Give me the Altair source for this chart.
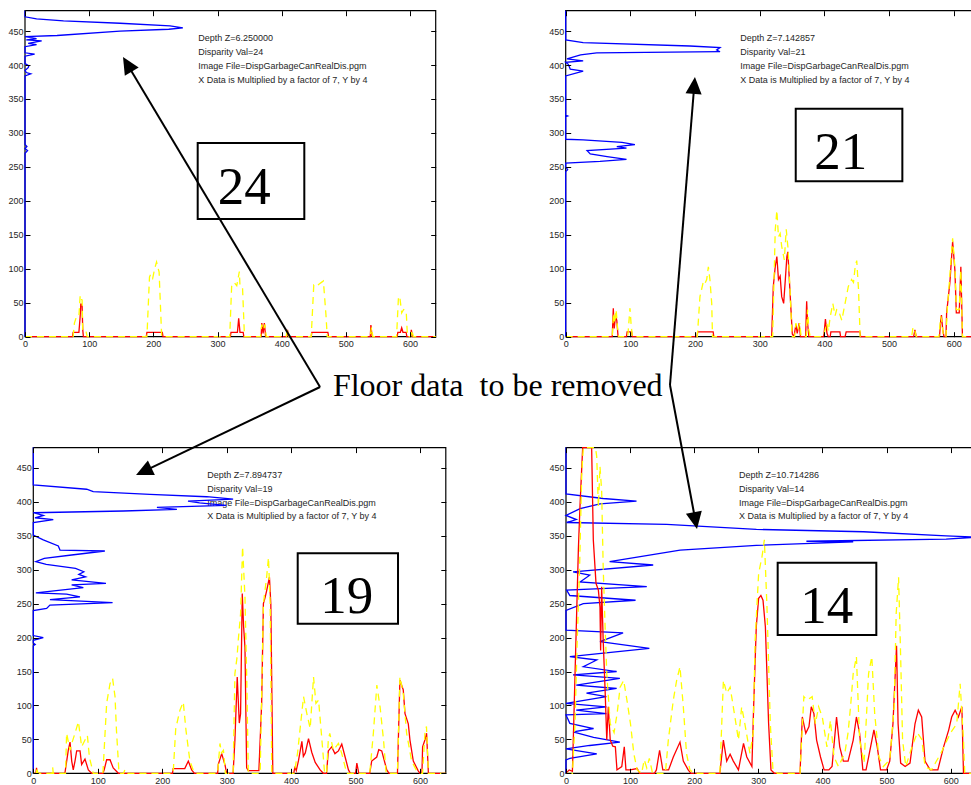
import math
import altair as alt
import pandas as pd

W, H = 971, 785

# ---------------- data ----------------
X_TICKS = [0, 100, 200, 300, 400, 500, 600]
Y_TICKS = [0, 50, 100, 150, 200, 250, 300, 350, 400, 450]

# Panel 1 (disparity 24)
P1_BLUE_Y = [0, 270, 274, 277, 280, 283, 384, 387, 389, 392, 396, 399, 402, 413, 416, 418, 427, 430, 432, 435.5, 437,
             439, 441.8, 443.5, 450, 452.7, 454.6, 457.6, 461.5, 465, 468, 471, 480]
P1_BLUE_X = [0, 0, 4, 0, 3, 0, 0, 9, 2, 0, 5, 6, 0, 0, 15, 0, 0, 18, 5, 26, 2,
             18, 0, 50, 148, 224, 246, 226, 148, 60, 18, 0, 0]
P1_RED_X = [0, 74, 75, 84, 86, 87, 89, 90, 91, 189, 190, 214, 215, 320, 321, 331, 333, 335, 340, 341, 368, 369, 371,
            373, 375, 408, 409, 411, 446, 447, 472, 473, 538, 539, 541, 580, 581, 585, 587, 589, 594, 595, 601, 602,
            604, 640]
P1_RED_Y = [0, 0, 6.5, 6.5, 30, 49, 45, 10, 0, 0, 6.5, 6.5, 0, 0, 6.5, 6.5, 27, 6.5, 6.5, 0, 0, 20, 5,
            20, 0, 0, 10, 0, 0, 6.5, 6.5, 0, 0, 17, 0, 0, 6.5, 6.5, 13, 6.5, 6.5, 0, 0, 10,
            0, 0]
P1_YEL_X = [0, 75, 77, 80, 84, 86, 88, 89, 90, 95, 97, 190, 194, 196, 199, 202, 205, 209, 213, 319, 322, 326, 330,
            334, 335, 339, 342, 367, 369, 372, 374, 376, 407, 409, 411, 446, 450, 454, 459, 462, 465, 469, 471, 538,
            540, 542, 579, 582, 584, 587, 590, 594, 596, 601, 603, 605, 640]
P1_YEL_Y = [0, 0, 20, 29, 30, 61, 55, 54, 8, 8, 0, 0, 88, 92, 86, 100, 110, 95, 0, 0, 74, 80, 75,
            96, 75, 72, 0, 0, 18, 10, 18, 0, 0, 12, 0, 0, 76, 74, 78, 80, 82, 32, 0, 0,
            14, 0, 0, 59, 59, 35, 40, 38, 0, 0, 10, 0, 0]

# Panel 2 (disparity 21)
P2_BLUE_Y = [0, 243, 246, 250, 255.6, 258, 261, 265, 269, 274, 277.6, 280, 282.7, 286, 289.7, 290.7, 324, 325, 326,
             384, 391, 394, 401, 404, 406, 409, 415, 418, 419.6, 422.2, 425.6, 428, 433, 437, 480]
P2_BLUE_X = [0, 0, 3, 0, 0, 53, 94, 64, 38, 33, 94, 79, 107, 87, 27, 0, 0, 3, 0,
             0, 27, 7, 4, 0, 27, 2, 23, 48, 238.6, 233.5, 238.6, 192, 27, 0, 0]
P2_RED_X = [0, 72, 73.6, 75, 77, 79, 81, 94, 95, 102, 103, 203, 204, 228, 229, 318.5, 321, 324, 326.5, 329, 331.6,
            334, 337, 339.6, 342, 343.5, 345, 347.8, 350.4, 353, 356, 358, 361, 363, 371, 372.6, 374, 376, 399,
            401.6, 404, 406, 409, 410, 424, 425, 432, 433.7, 455, 456, 538, 540, 542, 578, 580, 581, 583, 585, 588,
            589, 594, 598.3, 601.8, 604, 608.5, 611, 613.5, 640]
P2_RED_Y = [0, 0, 42, 12, 30, 24, 0, 0, 7, 7, 0, 0, 7, 7, 0, 0, 74, 103, 118, 84, 89,
            59, 49, 84, 118, 125, 98, 49, 4, 0, 18, 5, 20, 0, 0, 52, 20, 0, 0,
            26, 5, 0, 0, 7, 7, 0, 0, 7, 7, 0, 0, 10, 0, 0, 25, 32, 10, 0, 0,
            35, 79, 140, 98, 35, 35, 103, 0, 0]
P2_YEL_X = [0, 72, 74, 76, 78, 80, 82, 96, 98, 99.4, 101, 103, 203.5, 207.6, 212.8, 215, 218, 220.6, 223, 225.8, 227,
            320, 324, 326.5, 329, 331.6, 334, 338, 341, 344, 347.8, 350, 354, 356, 359, 362, 364, 372, 374, 376,
            378, 398.5, 403.7, 406, 409, 413, 416.6, 419, 421.7, 426.9, 432, 437, 442, 445, 447.6, 450, 452.8,
            455.3, 535, 537, 540, 542, 577, 580, 582, 584, 588, 590, 594, 598.3, 602, 604, 608.5, 611, 613.5, 640]
P2_YEL_Y = [0, 0, 35, 20, 40, 15, 0, 0, 25, 42, 20, 0, 0, 59, 81, 78, 84, 103, 84, 49, 0,
            0, 157, 186, 147, 152, 133, 113, 158, 128, 49, 0, 0, 20, 10, 20, 0, 0, 40, 10,
            0, 0, 20, 8, 29, 49, 31, 40, 39, 24, 49, 74, 84, 80, 103, 112, 69,
            0, 0, 14, 8, 0, 0, 30, 20, 0, 0, 40, 90, 145, 100, 40, 40, 98, 0, 0]

# Panel 3 (disparity 19)
P3_BLUE_Y = [0, 188, 190, 192, 196, 200, 203, 239.7, 243, 248, 251.6, 256, 260, 264, 266, 273.6, 277.6, 280, 285,
             289.6, 293, 297, 302, 308, 312, 316.8, 321.7, 327.6, 329, 335, 344, 351, 369.6, 374, 376.6, 380, 384,
             386.6, 389, 392, 395, 398.6, 401, 404, 407.6, 411, 415, 418.6, 425, 480]
P3_BLUE_X = [0, 0, 3, 0, 0, 15.5, 0, 0, 20.7, 25.8, 123, 25.8, 72.4, 51.7, 4, 77.6, 59.5, 112.7, 59.5,
             81, 70.6, 78.4, 65.5, 20, 4, 17, 59.5, 111, 41.4, 38.8, 15.5, 0, 0, 31, 2.6, 15.5, 0,
             139.7, 222.8, 191.8, 299, 258, 240, 310, 269, 181, 93, 82.8, 0, 0]
P3_RED_X = [0, 4, 5, 6, 49, 54.3, 57, 59.6, 62, 64.7, 67.3, 72.5, 75, 80.2, 85.4, 90.6, 108, 110, 113.8, 119, 124,
            132, 216, 217, 235, 240.5, 245.7, 250, 286, 287, 292.3, 297.5, 300, 310, 312.8, 316.4, 319.6, 321.6,
            324.2, 326.3, 328.4, 331, 333.6, 350, 354.3, 357, 359.6, 362, 366.4, 368.5, 371.6, 404, 406, 408,
            411.5, 416.7, 419, 422, 427, 432, 437.4, 445, 450, 455, 457.7, 462.9, 468, 473.4, 478.6, 483.8, 489,
            492, 500, 502, 505, 522, 525, 532.9, 536, 540.6, 548.4, 552, 565, 568.8, 574, 576.7, 581.8, 584.4,
            589.6, 597, 600, 603, 604, 607.6, 610.2, 613, 640]
P3_RED_Y = [0, 0, 8, 0, 0, 34, 46, 18, 5, 18, 33, 33, 13, 21, 5, 0, 0, 5, 20, 20, 8,
            0, 0, 7, 7, 18, 5, 0, 0, 13, 29, 12, 0, 0, 49, 142, 74, 88,
            265, 216, 186, 8, 4, 4, 103, 250, 259, 269, 289, 250, 0, 0, 10, 4,
            19, 47, 25, 30, 51, 31, 16, 5, 0, 0, 33, 39, 29, 33, 43, 24, 5,
            0, 0, 15, 0, 0, 18, 24, 35, 33, 5, 0, 0, 137, 123, 88, 73, 49,
            18, 4, 0, 0, 39, 49, 59, 0, 0]
P3_YEL_X = [0, 5, 5.6, 7, 29, 30, 31, 50, 51.7, 57, 60, 64.7, 70, 75, 80.2, 83.9, 87, 93, 108, 113.8, 119, 123,
            126.8, 129, 133, 140, 142, 144, 217, 221, 227.5, 232.7, 236.8, 243, 248, 252, 286, 289.6, 292, 295,
            298, 310, 312.8, 316, 318, 321.6, 324.7, 328.4, 331, 333.6, 352, 354.3, 357, 362, 364.9, 367.5, 370,
            405, 410, 414, 419.3, 424.4, 429.6, 434.8, 438.5, 442.6, 447.8, 452, 455, 457.7, 460, 465.5, 473.4,
            478.6, 486.3, 522, 527.6, 533, 538, 543.4, 547.5, 565, 568.8, 574, 579.2, 587, 594.7, 600, 604, 607.6,
            610, 613, 640]
P3_YEL_Y = [0, 0, 9, 0, 0, 9, 0, 0, 59, 34, 45, 59, 76, 39, 49, 56, 24, 0, 0, 103, 132, 140,
            113, 64, 0, 0, 5, 0, 0, 66, 93, 105, 64, 18, 5, 0, 0, 44, 30, 34,
            0, 0, 147, 170, 196, 235, 334, 260, 147, 0, 0, 113, 250, 289, 318, 250, 0,
            0, 30, 66, 113, 88, 66, 142, 103, 108, 49, 0, 0, 49, 59, 34, 44,
            29, 0, 0, 59, 130, 98, 49, 0, 0, 142, 118, 59, 18, 4, 0, 0, 59,
            69, 0, 0]

# Panel 4 (disparity 14)
P4_BLUE_Y = [0, 19.6, 22, 28.5, 36, 41, 46, 53, 61, 66, 73.6, 86, 88, 93, 98, 103, 113, 118, 125, 130, 140, 145,
             150, 157, 167, 172, 184, 194, 207, 211, 240, 250, 255, 262, 270, 275, 282, 292, 297, 307, 312, 329,
             336, 341, 342, 345, 348, 350, 356, 359.5, 367, 369.6, 374, 380, 390, 397, 401, 405, 411.6, 480]
P4_BLUE_X = [0, 0, 6, 48, 0, 37, 84, 43, 11, 43, 6, 0, 63, 16, 63, 0, 63, 32, 79, 16, 84, 11,
             79, 27, 48, 6, 130, 53, 89, 0, 0, 27, 108.5, 6, 1, 126, 22, 37, 11, 136, 68, 178,
             297, 448, 375, 593, 640, 593, 464, 297, 157, 1, 16, 0, 22, 53, 110, 58, 0, 0]
P4_RED_X = [0, 5, 10, 11.7, 15.6, 19.3, 21.8, 26, 40, 42.6, 46.8, 50.5, 53, 54, 55.6, 58, 61, 63.6, 66, 69, 73, 77,
            79.5, 87, 90.9, 93.5, 100, 111, 115, 138, 141, 146, 151, 160, 167.4, 177.8, 183, 190.6, 195, 240,
            245.5, 250.7, 256, 261, 269, 276.9, 282, 290, 292.7, 296.8, 300.5, 304, 307.3, 311, 316, 319.7, 325,
            365, 368.6, 374, 379, 382.6, 386.7, 390.9, 397, 402.6, 410, 415, 422, 427, 432.6, 440, 448, 453, 458,
            463, 468, 472, 480.3, 485.5, 490.6, 500, 505, 510, 515.6, 518, 522, 529, 536.6, 544.4, 549.6, 554.8,
            560, 568, 580, 589, 597, 601.6, 607, 612, 617.5, 620, 640]
P4_RED_Y = [0, 5, 3, 61, 200, 330, 393, 480, 480, 344, 280, 270, 245, 181, 275, 196, 122, 49, 98, 49, 40, 39,
            5, 10, 39, 5, 5, 7, 0, 0, 5, 34, 5, 5, 24, 46, 18, 5, 0, 0,
            49, 18, 28, 18, 5, 44, 24, 10, 98, 216, 258, 262, 255, 216, 74, 5, 0,
            0, 83, 59, 69, 98, 88, 49, 24, 5, 5, 10, 83, 39, 18, 18, 49, 83, 59,
            5, 5, 24, 64, 39, 5, 5, 18, 73, 188, 73, 15, 10, 15, 73, 93, 83,
            18, 5, 5, 39, 64, 83, 93, 83, 98, 0, 0]
P4_YEL_X = [0, 10, 14, 17.5, 21, 24.6, 27, 46, 47.9, 50.5, 53, 55.6, 58, 61, 63.6, 69, 75, 80, 84.4, 90, 95, 100.6,
            105.8, 111, 118, 122, 126, 130, 135, 155, 159.6, 167.4, 172.6, 177.8, 183, 188, 193.3, 200, 240, 245.5,
            250.7, 256, 261, 269, 274, 279, 287, 292, 295, 300.5, 305.7, 309.4, 313.5, 318.7, 322.8, 330, 365,
            371, 376, 384, 389, 394, 399.8, 407, 412.5, 418, 425, 435, 440, 444, 448, 453, 458, 465, 472, 477,
            481.5, 488, 495, 505, 512, 515, 518.8, 522, 525, 530, 540, 548, 555, 560, 570, 585, 600, 609.5,
            614.8, 620, 622, 640]
P4_YEL_Y = [0, 0, 73, 196, 295, 442, 480, 480, 467, 393, 452, 417, 304, 216, 147, 73, 60, 90, 127, 137, 108, 73,
            29, 5, 0, 20, 8, 22, 0, 0, 49, 108, 137, 157, 98, 29, 5, 0, 0, 137,
            118, 127, 98, 49, 98, 73, 29, 60, 196, 295, 319, 344, 245, 73, 5, 0, 0,
            113, 108, 113, 73, 98, 83, 39, 78, 24, 10, 30, 60, 100, 147, 172, 49, 15, 147, 172,
            88, 24, 10, 20, 100, 235, 289, 172, 49, 10, 40, 60, 50, 10, 5, 30, 60, 73,
            132, 49, 0, 0]

DEPTHS = ["6.250000", "7.142857", "7.894737", "10.714286"]
DISPARITIES = [24, 21, 19, 14]
IMAGE_FILE = "DispGarbageCanRealDis.pgm"
NOTE_X = 270
NOTE_Y = [440, 419.5, 399, 378.5]

FLOOR_TEXT = "Floor data\u00a0 to be removed"

# ---------------- layout / annotations (figure units) ----------------
PANEL_XR = [[25, 435.7], [565.7, 979.6], [33.3, 445.8], [566, 976.3]]
PANEL_YR = [[336.7, 10.7], [336.7, 10.7], [773.3, 447.6], [773.3, 447.6]]

BOX_X0 = [0.2036, 0.8195, 0.3066, 0.8009]
BOX_X1 = [0.3134, 0.9293, 0.4099, 0.9025]
BOX_Y0 = [0.7210, 0.7690, 0.2055, 0.1911]
BOX_Y1 = [0.8178, 0.8615, 0.2952, 0.2832]
NUM_X = [0.2516, 0.8658, 0.3571, 0.8514]
NUM_Y = [0.7401, 0.7847, 0.2187, 0.2060]

ARROW_TAIL_X = [0.3296, 0.6900, 0.3296, 0.6900]
ARROW_TAIL_Y = [0.5070, 0.5096, 0.5070, 0.5096]
ARROW_TIP_X = [0.1267, 0.7157, 0.1401, 0.7178]
ARROW_TIP_Y = [0.9274, 0.9019, 0.3949, 0.3261]
FLOOR_X, FLOOR_Y = 0.5126, 0.4959

LABEL_FONT = "Liberation Sans"
SERIF = "Liberation Serif"
TXT = "#262626"

panels = [
    (P1_BLUE_X, P1_BLUE_Y, P1_RED_X, P1_RED_Y, P1_YEL_X, P1_YEL_Y),
    (P2_BLUE_X, P2_BLUE_Y, P2_RED_X, P2_RED_Y, P2_YEL_X, P2_YEL_Y),
    (P3_BLUE_X, P3_BLUE_Y, P3_RED_X, P3_RED_Y, P3_YEL_X, P3_YEL_Y),
    (P4_BLUE_X, P4_BLUE_Y, P4_RED_X, P4_RED_Y, P4_YEL_X, P4_YEL_Y),
]


def line_df(xs, ys):
    return pd.DataFrame({"x": xs, "y": ys, "i": list(range(len(xs)))})


def tick_axis(orient, offset, values):
    return alt.Axis(orient=orient, offset=offset, values=values, labels=False, domain=False, grid=False,
                    ticks=True, tickSize=5, tickColor="black", tickWidth=1, zindex=2)


layers = []
for k, (bx, by, rx, ry, yx, yy) in enumerate(panels):
    xr, yr = PANEL_XR[k], PANEL_YR[k]
    xs = alt.Scale(domain=[0, 640], range=xr, nice=False, zero=False)
    ys = alt.Scale(domain=[0, 480], range=yr, nice=False, zero=False)

    x_lab = alt.Axis(orient="bottom", offset=yr[0] - H, values=X_TICKS, ticks=False, domain=False, grid=False,
                     labelFlush=False, labelPadding=3, labelFont=LABEL_FONT, labelFontSize=9, labelColor=TXT)
    y_lab = alt.Axis(orient="left", offset=-xr[0], values=Y_TICKS, ticks=False, domain=False, grid=False,
                     labelFlush=False, labelPadding=2, labelFont=LABEL_FONT, labelFontSize=9, labelColor=TXT)
    x_bot = tick_axis("bottom", yr[0] - 5 - H, X_TICKS)
    x_top = tick_axis("top", -(yr[1] + 5), X_TICKS)
    y_left = tick_axis("left", -(xr[0] + 5), Y_TICKS)
    y_right = tick_axis("right", xr[1] - 5 - W, Y_TICKS)

    frame = alt.Chart(pd.DataFrame({"x0": [0], "x1": [640], "y0": [0], "y1": [480]})).mark_rect(
        filled=False, color="black", strokeWidth=1.2
    ).encode(
        x=alt.X("x0:Q", scale=xs, axis=x_lab, title=""),
        x2="x1:Q",
        y=alt.Y("y0:Q", scale=ys, axis=y_lab, title=""),
        y2="y1:Q",
    )

    notes = pd.DataFrame({
        "x": [NOTE_X] * 4,
        "y": NOTE_Y,
        "t": ["Depth Z=" + DEPTHS[k], "Disparity Val=" + str(DISPARITIES[k]), "Image File=" + IMAGE_FILE,
              "X Data is Multiplied by a factor of 7, Y by 4"],
    })
    note_layer = alt.Chart(notes).mark_text(
        align="left", baseline="middle", font=LABEL_FONT, fontSize=9, color=TXT
    ).encode(
        x=alt.X("x:Q", scale=xs, axis=None),
        y=alt.Y("y:Q", scale=ys, axis=None),
        text="t:N",
    )

    blue = alt.Chart(line_df(bx, by)).mark_line(color="#0000ff", strokeWidth=1.3).encode(
        x=alt.X("x:Q", scale=xs, axis=x_bot, title=""),
        y=alt.Y("y:Q", scale=ys, axis=y_left, title=""),
        order="i:Q",
    )
    red = alt.Chart(line_df(rx, ry)).mark_line(color="#ff0000", strokeWidth=1.3).encode(
        x=alt.X("x:Q", scale=xs, axis=x_top, title=""),
        y=alt.Y("y:Q", scale=ys, axis=y_right, title=""),
        order="i:Q",
    )
    yellow = alt.Chart(line_df(yx, yy)).mark_line(color="#ffff00", strokeWidth=1.3, strokeDash=[7, 5]).encode(
        x=alt.X("x:Q", scale=xs, axis=None),
        y=alt.Y("y:Q", scale=ys, axis=None),
        order="i:Q",
    )
    layers += [frame, note_layer, blue, red, yellow]

# ---------------- figure-level annotations ----------------
fx = alt.Scale(domain=[0, 1], range=[0, W], nice=False, zero=False)
fy = alt.Scale(domain=[0, 1], range=[H, 0], nice=False, zero=False)

boxes = pd.DataFrame({"x0": BOX_X0, "x1": BOX_X1, "y0": BOX_Y0, "y1": BOX_Y1})
box_layer = alt.Chart(boxes).mark_rect(filled=False, color="black", strokeWidth=2).encode(
    x=alt.X("x0:Q", scale=fx, axis=None), x2="x1:Q",
    y=alt.Y("y0:Q", scale=fy, axis=None), y2="y1:Q",
)
nums = pd.DataFrame({"x": NUM_X, "y": NUM_Y, "t": [str(d) for d in DISPARITIES]})
num_layer = alt.Chart(nums).mark_text(
    font=SERIF, fontSize=53, align="center", baseline="alphabetic", color="black"
).encode(
    x=alt.X("x:Q", scale=fx, axis=None), y=alt.Y("y:Q", scale=fy, axis=None), text="t:N"
)

HEAD_LEN = 17.0
rows = []
for tx, ty, hx, hy in zip(ARROW_TAIL_X, ARROW_TAIL_Y, ARROW_TIP_X, ARROW_TIP_Y):
    px0, py0 = tx * W, (1 - ty) * H
    px1, py1 = hx * W, (1 - hy) * H
    dx, dy = px1 - px0, py1 - py0
    L = math.hypot(dx, dy)
    ex, ey = px1 - dx / L * (HEAD_LEN - 4), py1 - dy / L * (HEAD_LEN - 4)
    ang = math.degrees(math.atan2(dx, -dy)) % 360
    rows.append({"tx": tx, "ty": ty, "ex": ex / W, "ey": 1 - ey / H, "hx": hx, "hy": hy, "ang": ang})
arrows = pd.DataFrame(rows)

shaft_layer = alt.Chart(arrows).mark_rule(color="black", strokeWidth=2).encode(
    x=alt.X("tx:Q", scale=fx, axis=None), y=alt.Y("ty:Q", scale=fy, axis=None),
    x2="ex:Q", y2="ey:Q",
)
head_layer = alt.Chart(arrows).mark_point(
    shape="M0,0L-0.95,2L0.95,2Z", filled=True, color="black", opacity=1, size=HEAD_LEN ** 2, strokeWidth=0
).encode(
    x=alt.X("hx:Q", scale=fx, axis=None), y=alt.Y("hy:Q", scale=fy, axis=None),
    angle=alt.Angle("ang:Q", scale=None),
)
floor_layer = alt.Chart(pd.DataFrame({"x": [FLOOR_X], "y": [FLOOR_Y], "t": [FLOOR_TEXT]})).mark_text(
    font=SERIF, fontSize=32, align="center", baseline="alphabetic", color="black"
).encode(
    x=alt.X("x:Q", scale=fx, axis=None), y=alt.Y("y:Q", scale=fy, axis=None), text="t:N"
)

layers += [box_layer, num_layer, shaft_layer, head_layer, floor_layer]

chart = alt.layer(*layers).resolve_scale(x="independent", y="independent").resolve_axis(
    x="independent", y="independent"
).properties(
    width=W, height=H, padding=0, autosize=alt.AutoSizeParams(type="none"), background="white"
).configure_view(strokeWidth=0)

chart.save("out.html", embed_options={"renderer": "svg", "actions": False})
